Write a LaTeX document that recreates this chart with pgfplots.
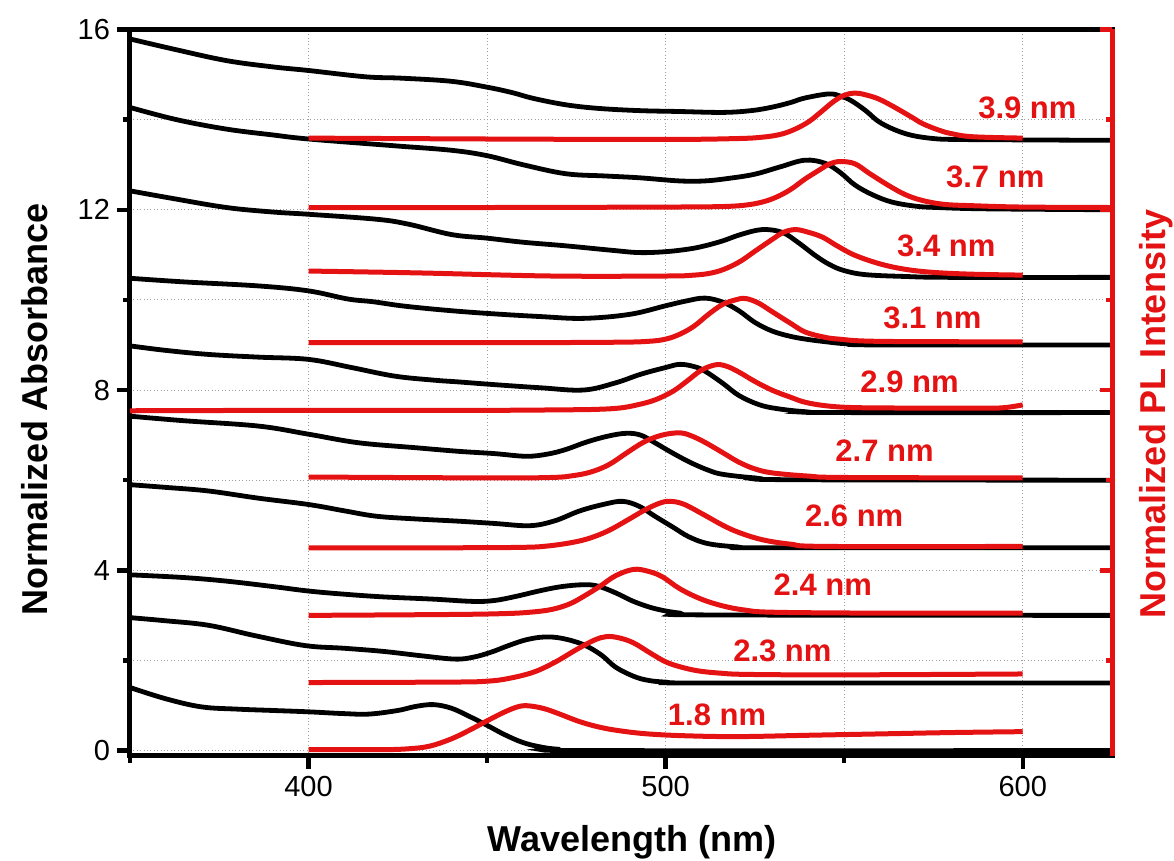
\documentclass[border=0pt]{standalone}
\usepackage{fontspec}
\setmainfont{Liberation Sans}
\usepackage{pgfplots}
\pgfplotsset{compat=1.18}
\definecolor{plred}{RGB}{228,18,18}
\begin{document}
\begin{tikzpicture}
\path[use as bounding box] (-65pt,-52.5pt) rectangle (522pt,378pt);
\begin{axis}[
  at={(0,0)}, anchor=south west,
  scale only axis, width=491pt, height=363.25pt,
  xmin=350, xmax=625, ymin=-0.12, ymax=16,
  xtick={400,500,600}, minor xtick={350,450,550},
  ytick={0,4,8,12,16}, minor ytick={2,6,10,14},
  xtick pos=left, ytick pos=left,
  tick align=outside,
  major tick length=6.5pt, minor tick length=3.5pt,
  tick style={black, line width=2.2pt},
  axis line style={line width=2.5pt},
  grid=both,
  grid style={gray!75, line width=0.5pt, dash pattern=on 0.5pt off 1.2pt},
  ticklabel style={font=\fontsize{14.5}{16}\selectfont},
  /pgf/number format/assume math mode=true,
  /pgf/number format/1000 sep={},
  every axis plot/.append style={smooth, tension=0.6},
]
% ---------- absorbance (black)
\addplot[black, line width=2.4pt] coordinates {(350,1.40) (360,1.15) (370,0.97) (380,0.92) (390,0.89) (400,0.86) (410,0.82) (417,0.81) (425,0.89) (430,0.98) (435,1.02) (440,0.94) (445,0.76) (450,0.56) (455,0.35) (460,0.18) (465,0.08) (470,0.03) (480,0) (625,0)};
\addplot[black, line width=2.4pt] coordinates {(350,2.95) (360,2.88) (372,2.78) (385,2.55) (399,2.33) (410,2.27) (421,2.20) (432,2.10) (441,2.03) (446,2.07) (451,2.18) (456,2.33) (461,2.46) (466,2.52) (471,2.49) (477,2.35) (482,2.12) (486,1.85) (491,1.65) (495,1.56) (500,1.52) (510,1.50) (625,1.50)};
\addplot[black, line width=2.4pt] coordinates {(350,3.90) (365,3.84) (377,3.76) (390,3.64) (400,3.54) (410,3.47) (421,3.41) (435,3.36) (446,3.31) (452,3.33) (458,3.42) (465,3.55) (471,3.64) (477,3.68) (481,3.65) (486,3.50) (491,3.31) (497,3.15) (504,3.05) (512,3.01) (625,3.00)};
\addplot[black, line width=2.4pt] coordinates {(350,5.90) (360,5.84) (372,5.76) (386,5.60) (400,5.46) (410,5.32) (419,5.20) (430,5.14) (442,5.09) (452,5.04) (462,4.99) (469,5.10) (476,5.32) (483,5.47) (488,5.53) (492.6,5.42) (497,5.20) (502,4.96) (506.6,4.74) (512,4.59) (520,4.52) (528,4.50) (625,4.50)};
\addplot[black, line width=2.4pt] coordinates {(350,7.42) (365,7.32) (386,7.20) (400,7.02) (414,6.83) (430,6.72) (442,6.64) (452,6.59) (461,6.53) (467,6.58) (472,6.68) (478,6.85) (484,6.98) (489,7.04) (493,7.00) (497,6.83) (502,6.60) (507,6.39) (512,6.22) (516,6.13) (525,6.05) (535,6.01) (625,6.00)};
\addplot[black, line width=2.4pt] coordinates {(350,8.98) (360,8.88) (372,8.79) (386,8.73) (400,8.68) (412,8.50) (424,8.31) (435,8.22) (442,8.18) (452,8.12) (465,8.05) (477,8.00) (486,8.16) (493,8.35) (500,8.50) (504,8.57) (508,8.52) (511,8.42) (516,8.15) (520.5,7.88) (526,7.68) (531,7.59) (539,7.52) (548,7.50) (625,7.50)};
\addplot[black, line width=2.4pt] coordinates {(350,10.48) (365,10.40) (386,10.31) (400,10.20) (411,10.02) (418,9.96) (427,9.86) (440,9.76) (452,9.69) (465,9.63) (477,9.59) (490,9.68) (500,9.87) (506,9.98) (511,10.04) (516,9.95) (520.5,9.76) (525,9.50) (529.8,9.31) (535,9.19) (540,9.12) (545,9.07) (550,9.03) (560,9.00) (625,9.00)};
\addplot[black, line width=2.4pt] coordinates {(350,12.42) (362,12.25) (377,12.05) (390,11.95) (400,11.90) (419,11.79) (428,11.68) (440,11.45) (450,11.37) (460,11.28) (472,11.20) (485,11.10) (492.6,11.05) (500,11.07) (506.6,11.13) (511,11.20) (516,11.31) (521,11.45) (527,11.56) (532.6,11.50) (537,11.28) (542,10.98) (546,10.78) (550,10.65) (556,10.56) (567,10.52) (580,10.50) (625,10.50)};
\addplot[black, line width=2.4pt] coordinates {(350,14.27) (363,14.00) (377,13.79) (390,13.66) (400,13.57) (424,13.42) (440,13.32) (450,13.20) (460,13.00) (472,12.80) (483,12.75) (492.6,12.71) (503.8,12.64) (511,12.64) (518,12.70) (525,12.79) (532,12.95) (539,13.10) (544.7,13.03) (549,12.82) (553,12.55) (558,12.33) (563.4,12.17) (570,12.08) (576,12.05) (590,12.02) (625,12.00)};
\addplot[black, line width=2.4pt] coordinates {(350,15.79) (363,15.55) (377,15.31) (390,15.17) (400,15.09) (416,14.95) (426,14.92) (440,14.85) (450,14.72) (457,14.60) (463,14.47) (472,14.33) (481,14.25) (492.6,14.20) (504,14.18) (516,14.16) (524,14.20) (530,14.28) (535,14.38) (539,14.48) (545.7,14.57) (549,14.52) (552,14.42) (556,14.20) (559.6,13.96) (564,13.78) (569,13.65) (575,13.58) (581,13.56) (600,13.55) (625,13.54)};
% ---------- PL (red)
\addplot[plred, line width=2.5pt] coordinates {(400,0.02) (420,0.02) (428,0.04) (434,0.10) (440,0.26) (445,0.45) (450,0.66) (455,0.86) (459,0.98) (462,0.99) (466,0.93) (470,0.82) (476,0.64) (482,0.51) (488,0.43) (495,0.37) (505,0.33) (520,0.31) (540,0.34) (560,0.37) (580,0.40) (600,0.42)};
\addplot[plred, line width=2.5pt] coordinates {(400,1.51) (440,1.52) (450,1.54) (456,1.60) (463,1.74) (469,1.96) (475,2.24) (480,2.45) (483.5,2.53) (487,2.50) (491,2.39) (496,2.15) (500,1.97) (504,1.86) (509,1.77) (515,1.72) (523,1.69) (550,1.68) (600,1.70)};
\addplot[plred, line width=2.5pt] coordinates {(400,3.00) (440,3.02) (455,3.04) (462,3.07) (468,3.13) (473,3.25) (477,3.42) (481.5,3.64) (486,3.88) (491,4.02) (495,3.98) (499,3.86) (504,3.59) (510,3.36) (516,3.21) (522,3.12) (530,3.07) (560,3.05) (600,3.05)};
\addplot[plred, line width=2.5pt] coordinates {(400,4.50) (440,4.50) (460,4.51) (467,4.54) (474,4.62) (479,4.72) (484,4.88) (489,5.10) (494,5.33) (498,5.48) (501,5.53) (505,5.47) (511,5.22) (516,5.00) (520.5,4.84) (527,4.68) (535,4.58) (545,4.53) (600,4.53)};
\addplot[plred, line width=2.5pt] coordinates {(400,6.07) (450,6.05) (468,6.06) (474,6.10) (479,6.18) (484,6.34) (489,6.60) (494,6.85) (499,7.00) (503.8,7.05) (507,6.99) (511,6.84) (516,6.61) (520.5,6.40) (525,6.25) (530,6.16) (540,6.09) (550,6.06) (600,6.05)};
\addplot[plred, line width=2.5pt] coordinates {(350,7.54) (400,7.55) (450,7.55) (470,7.56) (480,7.57) (487,7.60) (492,7.67) (497,7.78) (502,7.97) (506,8.20) (510,8.44) (514,8.56) (517,8.53) (520.5,8.40) (525,8.19) (530,7.99) (535,7.84) (539,7.73) (545,7.65) (553,7.61) (570,7.60) (590,7.60) (595,7.61) (600,7.67)};
\addplot[plred, line width=2.5pt] coordinates {(400,9.05) (450,9.05) (485,9.06) (495,9.08) (500,9.13) (504,9.24) (508,9.42) (512,9.68) (516,9.90) (520,10.01) (522.5,10.03) (526,9.93) (530,9.73) (535,9.48) (539,9.29) (544,9.18) (548.5,9.13) (560,9.08) (600,9.07)};
\addplot[plred, line width=2.5pt] coordinates {(400,10.64) (430,10.60) (468,10.53) (500,10.53) (508,10.55) (513,10.60) (517,10.70) (521,10.86) (525,11.08) (530,11.35) (533,11.50) (536.4,11.56) (540,11.50) (544,11.39) (548,11.20) (553,10.99) (560,10.80) (567,10.68) (575,10.61) (586,10.57) (600,10.55)};
\addplot[plred, line width=2.5pt] coordinates {(400,12.05) (450,12.05) (500,12.06) (515,12.07) (522,12.10) (527,12.17) (531,12.28) (535,12.45) (539,12.68) (543,12.88) (546,13.02) (549,13.07) (553,13.02) (557,12.81) (562.4,12.54) (567,12.34) (571.7,12.21) (578,12.12) (586,12.09) (600,12.06) (625,12.05)};
\addplot[plred, line width=2.5pt] coordinates {(400,13.59) (450,13.57) (500,13.56) (520,13.58) (527,13.61) (532,13.67) (536,13.78) (540,13.95) (543.5,14.17) (547,14.40) (550,14.54) (553,14.59) (556,14.55) (559.6,14.46) (564,14.28) (569,14.05) (572,13.91) (576.4,13.77) (580,13.69) (586,13.62) (600,13.59)};
% ---------- size labels
\begin{scope}[every node/.style={text=plred, font=\bfseries\fontsize{15.5}{17}\selectfont, inner sep=0pt}]
\node at (axis cs:601.3,14.26) {3.9 nm};
\node at (axis cs:592.3,12.72) {3.7 nm};
\node at (axis cs:578.6,11.19) {3.4 nm};
\node at (axis cs:574.7,9.60) {3.1 nm};
\node at (axis cs:568.3,8.18) {2.9 nm};
\node at (axis cs:561.3,6.66) {2.7 nm};
\node at (axis cs:552.8,5.20) {2.6 nm};
\node at (axis cs:544.0,3.68) {2.4 nm};
\node at (axis cs:532.7,2.21) {2.3 nm};
\node at (axis cs:514.4,0.80) {1.8 nm};
\end{scope}
\end{axis}
\begin{axis}[
  at={(0,0)}, anchor=south west,
  scale only axis, width=491pt, height=363.25pt,
  xmin=350, xmax=625, ymin=-0.12, ymax=16,
  axis x line=none, axis y line*=right,
  axis line style={plred, line width=2.5pt, -},
  ytick={4,8,12,16}, minor ytick={2,6,10,14}, yticklabels={},
  ytick pos=right, tick align=inside,
  major tick length=6pt, minor tick length=3pt,
  tick style={plred, line width=2.2pt},
]
\addplot[draw=none] coordinates {(400,1)};
\end{axis}
\node[rotate=90, anchor=base, font=\bfseries\fontsize{18}{20}\selectfont] at (-41pt,173.5pt) {Normalized Absorbance};
\node[rotate=90, anchor=base, text=plred, font=\bfseries\fontsize{18}{20}\selectfont] at (517.5pt,171pt) {Normalized PL Intensity};
\node[anchor=base, font=\bfseries\fontsize{18}{20}\selectfont] at (251pt,-48pt) {Wavelength (nm)};
\end{tikzpicture}
\end{document}
